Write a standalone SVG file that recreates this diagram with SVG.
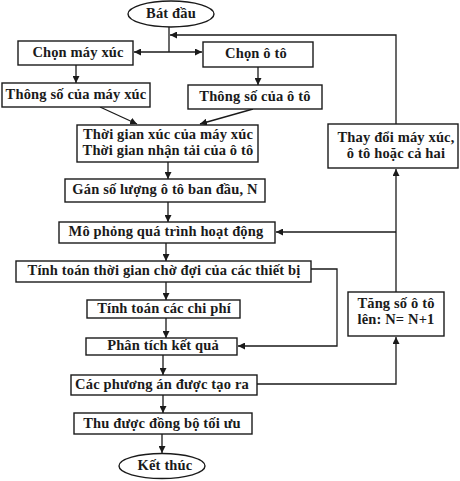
<svg xmlns="http://www.w3.org/2000/svg" width="460" height="481" viewBox="0 0 460 481">
<defs>
<marker id="ah" viewBox="0 0 10 10" refX="10" refY="5" markerWidth="7" markerHeight="7" markerUnits="userSpaceOnUse" orient="auto">
<path d="M0,0 L10,5 L0,10 z" fill="#1a1a1a"/>
</marker>
<style>
.b{fill:#fff;stroke:#1a1a1a;stroke-width:1.4}
.t{font-family:"Liberation Serif","Times New Roman",serif;font-weight:bold;font-size:14.5px;letter-spacing:0.15px;fill:#1a1a1a;text-anchor:middle}
.c{fill:none;stroke:#1a1a1a;stroke-width:1.3}
.a{marker-end:url(#ah)}
</style>
</defs>
<rect width="460" height="481" fill="#fff"/>
<g id="connectors">
<path class="c" d="M169,27 V52"/>
<path class="c a" d="M169,52 H134"/>
<path class="c a" d="M169,52 H202"/>
<path class="c a" d="M396,124 V35 H170"/>
<path class="c a" d="M76,65 V83"/>
<path class="c a" d="M258,67 V85"/>
<path class="c a" d="M100,107 L137,124"/>
<path class="c a" d="M253,109 L200,124"/>
<path class="c a" d="M168,162 V179"/>
<path class="c a" d="M168,202 V222"/>
<path class="c a" d="M396,232 H276"/>
<path class="c a" d="M396,292 V169"/>
<path class="c a" d="M166,243 V261"/>
<path class="c a" d="M311,269 H337 V346 H238"/>
<path class="c a" d="M166,282 V300"/>
<path class="c a" d="M166,318 V338"/>
<path class="c a" d="M163,355 V375"/>
<path class="c a" d="M257,384 H396 V337"/>
<path class="c a" d="M163,395 V413"/>
<path class="c a" d="M162,434 V453"/>
</g>
<g id="start"><ellipse class="b" cx="171" cy="14" rx="43" ry="13"/><text class="t" x="171" y="18">Bát đầu</text></g>
<g id="chon-may-xuc"><rect class="b" x="18" y="41" width="115" height="24"/><text class="t" x="78" y="57">Chọn máy xúc</text></g>
<g id="chon-o-to"><rect class="b" x="203" y="42" width="110" height="25"/><text class="t" x="256" y="58">Chọn ô tô</text></g>
<g id="thong-so-may-xuc"><rect class="b" x="2" y="83" width="148" height="24"/><text class="t" x="76" y="99">Thông số của máy xúc</text></g>
<g id="thong-so-o-to"><rect class="b" x="188" y="85" width="134" height="24"/><text class="t" x="255" y="101">Thông số của ô tô</text></g>
<g id="thoi-gian"><rect class="b" x="77" y="125" width="181" height="37"/><text class="t" x="168" y="139">Thời gian xúc của máy xúc</text><text class="t" x="168" y="155">Thời gian nhận tải của ô tô</text></g>
<g id="gan-so-luong"><rect class="b" x="65" y="179" width="200" height="23"/><text class="t" x="165" y="194">Gán số lượng ô tô ban đầu, N</text></g>
<g id="mo-phong"><rect class="b" x="59" y="222" width="216" height="21"/><text class="t" x="166" y="236">Mô phỏng quá trình hoạt động</text></g>
<g id="thay-doi"><rect class="b" x="328" y="124" width="130" height="44"/><text class="t" x="396" y="142">Thay đổi máy xúc,</text><text class="t" x="396" y="158">ô tô hoặc cả hai</text></g>
<g id="tinh-thoi-gian-cho"><rect class="b" x="16" y="261" width="295" height="21"/><text class="t" x="164" y="275">Tính toán thời gian chờ đợi của các thiết bị</text></g>
<g id="tinh-chi-phi"><rect class="b" x="87" y="300" width="153" height="18"/><text class="t" x="164" y="313">Tính toán các chi phí</text></g>
<g id="phan-tich"><rect class="b" x="86" y="338" width="151" height="17"/><text class="t" x="163" y="350">Phân tích kết quả</text></g>
<g id="tang-so"><rect class="b" x="348" y="292" width="96" height="44"/><text class="t" x="396" y="308">Tăng số ô tô</text><text class="t" x="396" y="324">lên: N= N+1</text></g>
<g id="phuong-an"><rect class="b" x="71" y="375" width="186" height="20"/><text class="t" x="162" y="389">Các phương án được tạo ra</text></g>
<g id="thu-duoc"><rect class="b" x="74" y="413" width="178" height="21"/><text class="t" x="162" y="428">Thu được đồng bộ tối ưu</text></g>
<g id="end"><ellipse class="b" cx="162" cy="466" rx="43" ry="12.5"/><text class="t" x="165" y="470">Kết thúc</text></g>
</svg>
